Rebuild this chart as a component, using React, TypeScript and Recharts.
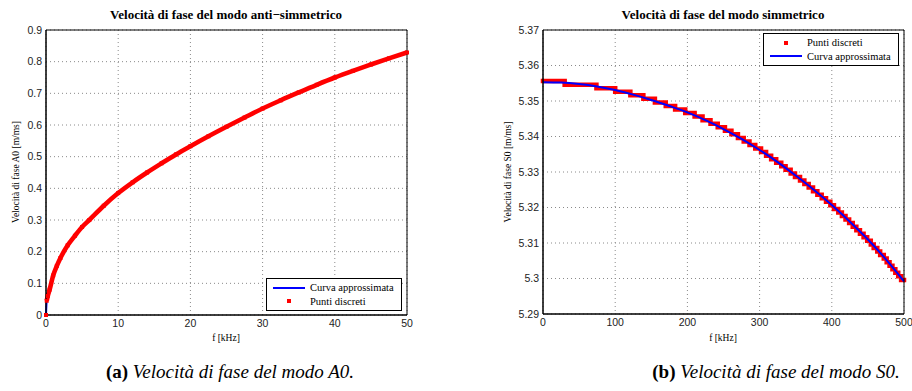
import React from "react";
import { ComposedChart, Line, XAxis, YAxis, CartesianGrid, Legend } from "recharts";

// modo A0 (anti-simmetrico), f in kHz, velocità in m/ms
const aFreq = [0, 0.1, 0.25, 0.5, 1, 1.5, 2, 3, 4, 5, 6, 8, 10, 12, 14, 16, 18, 20, 22.5, 25, 27.5, 30, 32.5, 35, 37.5, 40, 42.5, 45, 47.5, 50];
const aCurve = [0, 0.045, 0.06, 0.08, 0.125, 0.155, 0.18, 0.22, 0.25, 0.278, 0.3, 0.345, 0.385, 0.419, 0.45, 0.479, 0.507, 0.533, 0.5645, 0.5945, 0.6235, 0.652, 0.678, 0.7028, 0.727, 0.75, 0.771, 0.791, 0.8105, 0.829];
const aTicksX = [0, 10, 20, 30, 40, 50];
const aTicksY = [0, 0.1, 0.2, 0.3, 0.4, 0.5, 0.6, 0.7, 0.8, 0.9];

// modo S0 (simmetrico): curva approssimata
const sFreq = [0, 25, 50, 75, 100, 125, 150, 175, 200, 225, 250, 275, 300, 325, 350, 375, 400, 425, 450, 475, 500];
const sCurve = [5.3553, 5.3552, 5.3548, 5.3541, 5.3531, 5.3518, 5.3503, 5.3486, 5.3468, 5.3446, 5.3421, 5.3393, 5.3362, 5.3328, 5.329, 5.325, 5.3207, 5.316, 5.311, 5.3054, 5.2992];
// punti discreti: gradini (inizio gradino in kHz, valore)
const stepStart = [0, 30, 74, 100, 121, 139, 155, 170, 183, 197, 210, 221, 232, 242, 252, 261, 270, 278, 286, 294, 302, 309, 316, 323, 330, 336, 343, 349, 356, 362, 368, 374, 380, 386, 392, 398, 403, 409, 414, 419, 424, 429, 434, 439, 444, 449, 454, 458, 463, 467, 472, 476, 480, 484, 488, 492, 496];
const stepValue = [5.3556, 5.3546, 5.3536, 5.3526, 5.3516, 5.3506, 5.3496, 5.3486, 5.3476, 5.3466, 5.3456, 5.3446, 5.3436, 5.3426, 5.3416, 5.3406, 5.3396, 5.3386, 5.3376, 5.3366, 5.3356, 5.3346, 5.3336, 5.3326, 5.3316, 5.3306, 5.3296, 5.3286, 5.3276, 5.3266, 5.3256, 5.3246, 5.3236, 5.3226, 5.3216, 5.3206, 5.3196, 5.3186, 5.3176, 5.3166, 5.3156, 5.3146, 5.3136, 5.3126, 5.3116, 5.3106, 5.3096, 5.3086, 5.3076, 5.3066, 5.3056, 5.3046, 5.3036, 5.3026, 5.3016, 5.3006, 5.2996];
const sTicksX = [0, 100, 200, 300, 400, 500];
const sTicksY = [5.29, 5.3, 5.31, 5.32, 5.33, 5.34, 5.35, 5.36, 5.37];

const SERIF = "'Liberation Serif', 'Times New Roman', serif";
const SANS = "'Liberation Sans', Arial, sans-serif";
const RED = "#ff0000";
const BLUE = "#0000ff";

const aBlue = aFreq.map((f, i) => ({ f, v: aCurve[i] }));
const aRed = [{ f: 0, v: 0 }, { f: 0.05, v: null }, ...aFreq.slice(1).map((f, i) => ({ f, v: aCurve[i + 1] }))];
const sBlue = sFreq.map((f, i) => ({ f, v: sCurve[i] }));
const sRed = stepStart.flatMap((f, i) => {
  const end = i + 1 < stepStart.length ? stepStart[i + 1] : 500;
  return [{ f, v: stepValue[i] }, { f: end, v: stepValue[i] }, { f: end, v: null }];
});

const squareDot = (size: number, color: string) => (props: any) => {
  const { cx, cy, index, value } = props;
  if (cy == null || value == null || Number.isNaN(cy)) return <g key={`d${index}`} />;
  return <rect key={`d${index}`} x={cx - size / 2} y={cy - size / 2} width={size} height={size} fill={color} />;
};

type Entry = { label: string; kind: "line" | "dot"; color: string };

function LegendBox({ entries }: { entries: Entry[] }) {
  return (
    <div style={{ border: "1.2px solid #000", background: "#fff", padding: "2px 4px 2px 6px", fontFamily: SERIF, fontSize: 10.5, lineHeight: "13.5px", color: "#000" }}>
      {entries.map((e) => (
        <div key={e.label} style={{ display: "flex", alignItems: "center", whiteSpace: "nowrap" }}>
          <svg width={32} height={10} style={{ marginRight: 5, flex: "none" }}>
            {e.kind === "line" ? (
              <line x1={0} x2={32} y1={5} y2={5} stroke={e.color} strokeWidth={2} />
            ) : (
              <rect x={14} y={3} width={4} height={4} fill={e.color} />
            )}
          </svg>
          <span>{e.label}</span>
        </div>
      ))}
    </div>
  );
}

const tickStyle = { fontFamily: SANS, fontSize: 10.5, fill: "#222" };

function Frame({ xTicks, yTicks, xDomain, yDomain, fmt }: any) {
  return [
    <XAxis key="b" xAxisId="b" type="number" dataKey="f" domain={xDomain} ticks={xTicks} tickLine={false} tickSize={0} tickMargin={5} height={30} stroke="#000" tick={tickStyle} interval={0} />,
    <XAxis key="bm" xAxisId="bm" type="number" dataKey="f" domain={xDomain} ticks={xTicks} mirror tick={false} tickSize={4} stroke="#000" />,
    <XAxis key="t" xAxisId="t" orientation="top" type="number" dataKey="f" domain={xDomain} ticks={xTicks} mirror tick={false} tickSize={4} stroke="#000" />,
    <YAxis key="l" yAxisId="l" type="number" domain={yDomain} ticks={yTicks} tickLine={false} tickSize={0} tickMargin={4} width={40} stroke="#000" tick={tickStyle} tickFormatter={fmt} interval={0} />,
    <YAxis key="lm" yAxisId="lm" type="number" domain={yDomain} ticks={yTicks} mirror tick={false} tickSize={4} stroke="#000" />,
    <YAxis key="r" yAxisId="r" orientation="right" type="number" domain={yDomain} ticks={yTicks} mirror tick={false} tickSize={4} stroke="#000" />,
  ];
}

function Text({ x, y, children, style, rotate }: any) {
  return (
    <div
      style={{
        position: "absolute",
        left: x,
        top: y,
        transform: `translate(-50%, -50%)${rotate ? " rotate(-90deg)" : ""}`,
        whiteSpace: "nowrap",
        color: "#000",
        ...style,
      }}
    >
      {children}
    </div>
  );
}

const titleStyle = { fontFamily: SERIF, fontSize: 13, fontWeight: 700 };
const labelStyle = { fontFamily: SERIF, fontSize: 9.5 };
const captionStyle = { fontFamily: SERIF, fontSize: 19 };

export default function App() {
  return (
    <div style={{ position: "fixed", left: 0, top: 0, width: 912, height: 391, background: "#fff", overflow: "hidden" }}>
      <div style={{ position: "absolute", left: 0, top: 0 }}>
        <ComposedChart width={456} height={350} margin={{ top: 30, right: 49, bottom: 5, left: 6 }}>
          <CartesianGrid xAxisId="b" yAxisId="l" stroke="#8a8a8a" strokeDasharray="1 3" />
          {Frame({ xTicks: aTicksX, yTicks: aTicksY, xDomain: [0, 50], yDomain: [0, 0.9], fmt: (v: number) => String(+v.toFixed(1)) })}
          <Line xAxisId="b" yAxisId="l" type="monotone" data={aBlue} dataKey="v" name="Curva approssimata" stroke={BLUE} strokeWidth={2} dot={false} isAnimationActive={false} />
          <Line xAxisId="b" yAxisId="l" type="monotone" data={aRed} dataKey="v" name="Punti discreti" stroke={RED} strokeWidth={4.6} dot={squareDot(4, RED)} connectNulls={false} isAnimationActive={false} />
          <Legend
            layout="horizontal"
            verticalAlign="middle"
            align="center"
            wrapperStyle={{ left: 266, top: 278, width: 136 }}
            content={() => (
              <LegendBox
                entries={[
                  { label: "Curva approssimata", kind: "line", color: BLUE },
                  { label: "Punti discreti", kind: "dot", color: RED },
                ]}
              />
            )}
          />
        </ComposedChart>
      </div>
      <div style={{ position: "absolute", left: 456, top: 0 }}>
        <ComposedChart width={456} height={350} margin={{ top: 30, right: 8, bottom: 6, left: 47 }}>
          <CartesianGrid xAxisId="b" yAxisId="l" stroke="#8a8a8a" strokeDasharray="1 3" />
          {Frame({ xTicks: sTicksX, yTicks: sTicksY, xDomain: [0, 500], yDomain: [5.29, 5.37], fmt: (v: number) => String(+v.toFixed(2)) })}
          <Line xAxisId="b" yAxisId="l" data={sRed} dataKey="v" name="Punti discreti" stroke={RED} strokeWidth={4.5} strokeLinecap="square" dot={false} connectNulls={false} isAnimationActive={false} />
          <Line xAxisId="b" yAxisId="l" type="monotone" data={sBlue} dataKey="v" name="Curva approssimata" stroke={BLUE} strokeWidth={2} dot={false} isAnimationActive={false} />
          <Legend
            layout="horizontal"
            verticalAlign="middle"
            align="center"
            wrapperStyle={{ left: 307, top: 33, width: 136 }}
            content={() => (
              <LegendBox
                entries={[
                  { label: "Punti discreti", kind: "dot", color: RED },
                  { label: "Curva approssimata", kind: "line", color: BLUE },
                ]}
              />
            )}
          />
        </ComposedChart>
      </div>

      <Text x={226} y={15} style={titleStyle}>Velocità di fase del modo anti−simmetrico</Text>
      <Text x={723} y={15} style={titleStyle}>Velocità di fase del modo simmetrico</Text>
      <Text x={16} y={172} style={labelStyle} rotate>Velocità di fase A0 [m/ms]</Text>
      <Text x={508} y={172} style={labelStyle} rotate>Velocità di fase S0 [m/ms]</Text>
      <Text x={226} y={338} style={labelStyle}>f [kHz]</Text>
      <Text x={723} y={338} style={labelStyle}>f [kHz]</Text>
      <Text x={230} y={372} style={captionStyle}>
        <b>(a)</b> <i>Velocità di fase del modo A0.</i>
      </Text>
      <Text x={776} y={372} style={captionStyle}>
        <b>(b)</b> <i>Velocità di fase del modo S0.</i>
      </Text>
    </div>
  );
}
